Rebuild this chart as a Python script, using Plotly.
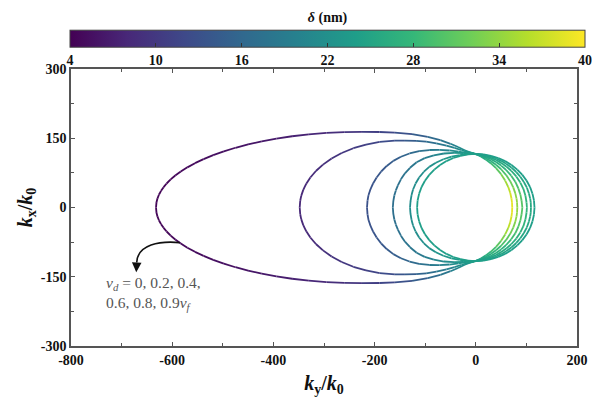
import plotly.graph_objects as go
from plotly.colors import sample_colorscale

# ---- data: upper halves of each contour (they are mirror-symmetric in kx) ----
# v_d = 0.9 v_f
ky_09 = [-632, -631, -629, -626, -622, -617, -611, -603, -594, -583, -570, -555, -538, -519, -498, -475, -450,
         -423, -394, -363, -330, -295, -260, -225, -190, -160, -126, -95, -70, -50, -35, -22, -10, 0, 10, 20,
         30, 40, 50, 58, 64, 68, 70.5, 71.5, 72]
kx_09 = [0, 11.5, 19.9, 28.1, 36.1, 44.1, 52.0, 60.8, 69.2, 78.0, 87.0, 96.0, 104.8, 113.4, 121.6, 129.4, 136.7,
         143.3, 149.2, 154.3, 158.4, 161.6, 163.4, 164, 163.5, 162, 159, 153, 146, 138, 131, 124, 119, 116, 110.5,
         103.7, 95.4, 85.2, 72.2, 58.4, 44.8, 32.0, 19.6, 11.2, 0]
dl_09 = [4.4, 4.4, 4.5, 4.5, 4.5, 4.5, 4.6, 4.6, 4.7, 4.8, 4.9, 5.0, 5.1, 5.3, 5.5, 5.7, 6.0,
         6.3, 6.6, 7.1, 7.7, 8.3, 9.1, 10.1, 11.2, 12.3, 13.8, 15.6, 17.3, 19.1, 20.6, 22.2, 23.4, 24.1, 25.2,
         26.5, 28.0, 29.8, 31.9, 34.0, 35.8, 37.2, 38.3, 38.7, 38.9]

# v_d = 0.8 v_f
ky_08 = [-348, -347, -345, -341, -335, -327, -316, -302, -285, -265, -242, -217, -190, -160, -140, -118, -98,
         -78, -58, -42, -28, -15, -4, 10, 20, 30, 40, 50, 60, 68, 74, 78, 80.5, 81.5, 82]
kx_08 = [0, 14.6, 25.1, 38.2, 51.7, 65.0, 79.0, 92.9, 106.1, 118.0, 128.4, 136.4, 142.0, 144.8, 145.0, 144.5,
         142.5, 139, 134, 129, 124, 120, 117, 111.9, 106.8, 100.4, 92.6, 82.8, 70.2, 57.0, 43.6, 31.1, 19.2, 11.1, 0]
dl_08 = [8.0, 8.1, 8.1, 8.2, 8.3, 8.4, 8.6, 8.9, 9.2, 9.7, 10.2, 10.9, 11.8, 13.0, 13.8, 15.0, 16.2,
         17.6, 19.2, 20.6, 22.0, 23.2, 23.9, 24.9, 25.8, 26.7, 27.8, 29.0, 30.3, 31.6, 32.6, 33.3, 33.8, 34.0, 34.1]

# v_d = 0.6 v_f
ky_06 = [-215, -214, -212, -208, -203, -196, -187, -176, -163, -148, -131, -112, -92, -72, -52, -34, -18, -5,
         10, 20, 30, 40, 50, 60, 70, 78, 84, 88, 90.5, 92]
kx_06 = [0, 15, 27, 40, 52, 65, 78, 90, 101, 110, 117, 122, 124.5, 125, 123.5, 121, 118.5, 116.5,
         113.2, 109.4, 104.5, 98.4, 90.8, 81.2, 69.0, 56.0, 41.7, 28.3, 14.7, 0]
dl_06 = [13.0, 13.1, 13.1, 13.2, 13.4, 13.6, 13.8, 14.2, 14.6, 15.2, 15.9, 16.9, 18.1, 19.4, 20.9, 22.3, 23.4, 24.0,
         24.6, 25.2, 25.8, 26.4, 27.0, 27.7, 28.5, 29.2, 29.9, 30.3, 30.5, 30.4]

# v_d = 0.4 v_f
ky_04 = [-164, -163, -161, -158, -154, -148, -140, -130, -117, -101, -83, -63, -43, -25, -10,
         10, 20, 30, 40, 50, 60, 70, 80, 88, 94, 98, 100.3, 101]
kx_04 = [0, 14, 26, 37, 48, 61, 74, 86, 98, 107, 113, 117, 118.5, 118, 117,
         114.2, 111.4, 107.6, 102.8, 96.7, 89.0, 79.6, 67.3, 54.0, 40.4, 26.1, 10.8, 0]
dl_04 = [17.1, 17.1, 17.2, 17.3, 17.4, 17.5, 17.7, 18.0, 18.3, 19.0, 20.0, 21.1, 22.2, 23.2, 23.9,
         24.4, 24.7, 25.1, 25.4, 25.7, 26.1, 26.4, 26.8, 27.1, 27.4, 27.6, 27.8, 27.7]

# v_d = 0.2 v_f
ky_02 = [-130, -129, -127, -124, -119, -112, -103, -92, -79, -64, -48, -32, -16, 0,
         10, 20, 30, 40, 50, 60, 70, 80, 88, 95, 101, 105, 107.5, 108.6, 109]
kx_02 = [0, 14, 27, 39, 52, 65, 77, 88, 97, 104.5, 110, 113.5, 115.5, 116,
         114.9, 113.0, 110.1, 106.2, 101.1, 94.8, 86.8, 76.8, 66.6, 55.3, 42.9, 30.3, 19.2, 11.3, 0]
dl_02 = [21.5, 21.6, 21.6, 21.5, 21.6, 21.6, 21.8, 22.0, 22.4, 22.9, 23.3, 23.7, 24.0, 24.1,
         24.3, 24.4, 24.5, 24.7, 24.8, 25.0, 25.1, 25.2, 25.4, 25.5, 25.5, 25.6, 25.6, 25.6, 25.7]

# v_d = 0
ky_00 = [-116, -115.0, -112.0, -107.2, -100.5, -92.0, -82.0, -70.6, -58.0, -44.4, -30.0, -15.1, 0,
         15.1, 30.0, 44.4, 58.0, 70.6, 82.0, 92.0, 100.5, 107.2, 112.0, 115.0, 116]
kx_00 = [0, 15.1, 30.0, 44.4, 58.0, 70.6, 82.0, 92.0, 100.5, 107.2, 112.0, 115.0, 116,
         115.0, 112.0, 107.2, 100.5, 92.0, 82.0, 70.6, 58.0, 44.4, 30.0, 15.1, 0]
dl_00 = [24.1] * 25

curves = [(ky_09, kx_09, dl_09), (ky_08, kx_08, dl_08), (ky_06, kx_06, dl_06),
          (ky_04, kx_04, dl_04), (ky_02, kx_02, dl_02), (ky_00, kx_00, dl_00)]

cb_ticks = [4, 10, 16, 22, 28, 34, 40]
x_ticks = [-800, -600, -400, -200, 0, 200]
x_ticktext = ["-800", "-600", "-400", "-200", "0", "200"]
y_ticks = [-300, -150, 0, 150, 300]
y_ticktext = ["-300", "-150", "0", "150", "300"]
dmin, dmax = 4, 40

FONT = "Liberation Serif"
fig = go.Figure()

for ky, kx, dl in curves:
    # closed loop: upper half left->right, then mirrored lower half right->left
    X = list(ky) + list(reversed(ky[:-1]))
    Y = list(kx) + [-v for v in reversed(kx[:-1])]
    D = list(dl) + list(reversed(dl[:-1]))
    for i in range(len(X) - 1):
        dm = 0.5 * (D[i] + D[i + 1])
        col = sample_colorscale("Viridis", [(dm - dmin) / (dmax - dmin)])[0]
        fig.add_trace(go.Scatter(x=[X[i], X[i + 1]], y=[Y[i], Y[i + 1]], mode="lines",
                                 line=dict(color=col, width=1.8), showlegend=False,
                                 hoverinfo="skip"))

# colorbar
fig.add_trace(go.Scatter(
    x=[None], y=[None], mode="markers", showlegend=False, hoverinfo="skip",
    marker=dict(color=[dmin], cmin=dmin, cmax=dmax, colorscale="Viridis", showscale=True,
                colorbar=dict(orientation="h", x=0.507, xanchor="center", len=1.018, xpad=0,
                              y=0.985, yanchor="bottom", thickness=17, ypad=0,
                              outlinewidth=1, outlinecolor="#444",
                              tickmode="array", tickvals=cb_ticks, ticktext=[str(t) for t in cb_ticks],
                              ticks="inside", ticklen=4, tickcolor="#333",
                              tickfont=dict(family=FONT, size=14, color="#111", weight="bold"),
                              title=dict(text="<i>δ</i> (nm)", side="top",
                                         font=dict(family=FONT, size=14, color="#111", weight="bold"))))))

axis_common = dict(showgrid=False, zeroline=False, showline=True, linecolor="#555", linewidth=1.5,
                   mirror="ticks", ticks="inside", ticklen=4, tickcolor="#555", tickwidth=1.2,
                   automargin=False,
                   tickfont=dict(family=FONT, size=14, color="#111", weight="bold"))

fig.update_xaxes(range=[-800, 200], tickmode="array", tickvals=x_ticks, ticktext=x_ticktext,
                 minor=dict(tick0=-800, dtick=100, ticks="inside", ticklen=3, tickcolor="#555"),
                 title=dict(text="<b><i>k</i><sub>y</sub>/<i>k</i><sub>0</sub></b>", standoff=13,
                            font=dict(family=FONT, size=20, color="#111")),
                 **axis_common)
fig.update_yaxes(range=[-300, 300], tickmode="array", tickvals=y_ticks, ticktext=y_ticktext,
                 minor=dict(tick0=-300, dtick=75, ticks="inside", ticklen=3, tickcolor="#555"),
                 title=dict(text="<b><i>k</i><sub>x</sub>/<i>k</i><sub>0</sub></b>", standoff=3,
                            font=dict(family=FONT, size=20, color="#111")),
                 **axis_common)

# annotation text and curved arrow
fig.add_annotation(x=-735, y=-186, xref="x", yref="y", xanchor="left", yanchor="middle", align="left",
                   showarrow=False,
                   text="<i>v<sub>d</sub></i> = 0, 0.2, 0.4,<br>0.6, 0.8, 0.9<i>v<sub>f</sub></i>",
                   font=dict(family=FONT, size=15.5, color="#555"))
fig.add_shape(type="path", xref="x", yref="y",
              path="M -585,-76 C -625,-72 -668,-80 -670,-118",
              line=dict(color="#111", width=1.6))
fig.add_annotation(x=-671, y=-140, ax=-670, ay=-116, xref="x", yref="y", axref="x", ayref="y",
                   text="", showarrow=True, arrowhead=2, arrowsize=1.2, arrowwidth=1.6, arrowcolor="#111")

# the page body adds an 8 px offset, so the figure is sized 8 px smaller to keep the plot box in place
fig.update_layout(width=592, height=389, margin=dict(l=63, r=23, t=61, b=51, autoexpand=False),
                  plot_bgcolor="white", paper_bgcolor="white", showlegend=False)

fig.write_html("out.html")
